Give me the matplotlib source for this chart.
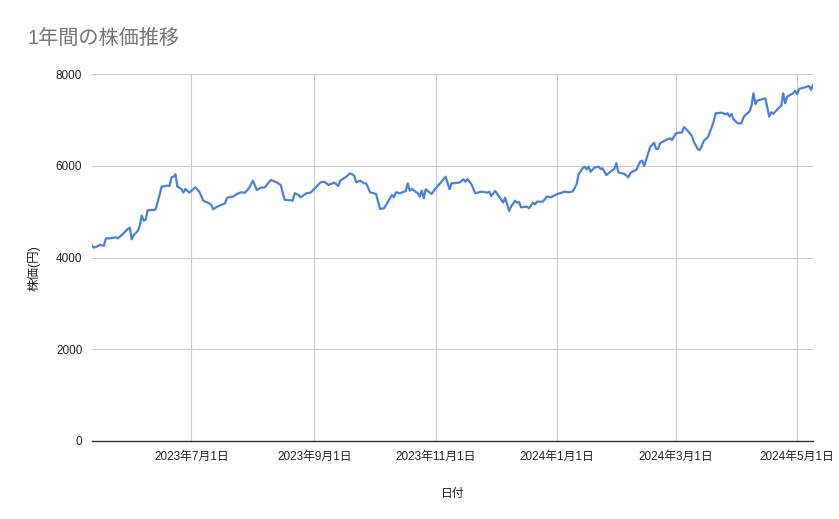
#!/usr/bin/env python3
# -*- coding: utf-8 -*-
"""
1年間の株価推移（折れ線グラフ）
"""

import matplotlib
matplotlib.use('Agg')
import matplotlib.pyplot as plt
import matplotlib.dates as mdates
from matplotlib.ticker import FuncFormatter
import pandas as pd

# フォント設定（数字は Liberation Sans、漢字は Noto Sans CJK JP）
plt.rcParams['font.family'] = ['Liberation Sans', 'Noto Sans CJK JP', 'DejaVu Sans']

# データ
dates = [
    '2023-05-12', '2023-05-13', '2023-05-15', '2023-05-16', '2023-05-18', '2023-05-19',
    '2023-05-21', '2023-05-24', '2023-05-25', '2023-05-27', '2023-05-30', '2023-05-31',
    '2023-06-01', '2023-06-02', '2023-06-04', '2023-06-05', '2023-06-06', '2023-06-07',
    '2023-06-08', '2023-06-09', '2023-06-12', '2023-06-13', '2023-06-15', '2023-06-16',
    '2023-06-19', '2023-06-20', '2023-06-21', '2023-06-22', '2023-06-23', '2023-06-24',
    '2023-06-26', '2023-06-27', '2023-06-28', '2023-06-30',
    '2023-07-03', '2023-07-05', '2023-07-07', '2023-07-10', '2023-07-11', '2023-07-12',
    '2023-07-14', '2023-07-16', '2023-07-18', '2023-07-19', '2023-07-22', '2023-07-24',
    '2023-07-26', '2023-07-28', '2023-07-30',
    '2023-08-01', '2023-08-03', '2023-08-05', '2023-08-07', '2023-08-10', '2023-08-13',
    '2023-08-15', '2023-08-17', '2023-08-19', '2023-08-21', '2023-08-22', '2023-08-24',
    '2023-08-25', '2023-08-28', '2023-08-30',
    '2023-09-02', '2023-09-04', '2023-09-06', '2023-09-08', '2023-09-11', '2023-09-13',
    '2023-09-14', '2023-09-17', '2023-09-19', '2023-09-21', '2023-09-22', '2023-09-24',
    '2023-09-26', '2023-09-27', '2023-09-29',
    '2023-10-02', '2023-10-04', '2023-10-06', '2023-10-08', '2023-10-10', '2023-10-11',
    '2023-10-12', '2023-10-14', '2023-10-17', '2023-10-18', '2023-10-19', '2023-10-20',
    '2023-10-23', '2023-10-24', '2023-10-25', '2023-10-26', '2023-10-27', '2023-10-30',
    '2023-11-01', '2023-11-04', '2023-11-06', '2023-11-08', '2023-11-09', '2023-11-13',
    '2023-11-15', '2023-11-16', '2023-11-17', '2023-11-19', '2023-11-21', '2023-11-24',
    '2023-11-27', '2023-11-28', '2023-11-29',
    '2023-12-01', '2023-12-03', '2023-12-05', '2023-12-06', '2023-12-08', '2023-12-09',
    '2023-12-11', '2023-12-12', '2023-12-13', '2023-12-14', '2023-12-17', '2023-12-18',
    '2023-12-19', '2023-12-20', '2023-12-21', '2023-12-22', '2023-12-25', '2023-12-27',
    '2023-12-29',
    '2024-01-01', '2024-01-05', '2024-01-07', '2024-01-09', '2024-01-11', '2024-01-12',
    '2024-01-14', '2024-01-15', '2024-01-16', '2024-01-17', '2024-01-18', '2024-01-20',
    '2024-01-22', '2024-01-23', '2024-01-24', '2024-01-26', '2024-01-28', '2024-01-30',
    '2024-01-31',
    '2024-02-01', '2024-02-04', '2024-02-06', '2024-02-07', '2024-02-08', '2024-02-10',
    '2024-02-12', '2024-02-13', '2024-02-14', '2024-02-16', '2024-02-17', '2024-02-19',
    '2024-02-20', '2024-02-21', '2024-02-22', '2024-02-25', '2024-02-27', '2024-02-28',
    '2024-03-01', '2024-03-03', '2024-03-04', '2024-03-05', '2024-03-07', '2024-03-09',
    '2024-03-10', '2024-03-12', '2024-03-13', '2024-03-14', '2024-03-15', '2024-03-17',
    '2024-03-18', '2024-03-20', '2024-03-21', '2024-03-24', '2024-03-26', '2024-03-27',
    '2024-03-28', '2024-03-29', '2024-03-30',
    '2024-04-01', '2024-04-03', '2024-04-04', '2024-04-05', '2024-04-07', '2024-04-08',
    '2024-04-09', '2024-04-10', '2024-04-11', '2024-04-14', '2024-04-15', '2024-04-17',
    '2024-04-18', '2024-04-19', '2024-04-20', '2024-04-22', '2024-04-23', '2024-04-24',
    '2024-04-25', '2024-04-26', '2024-04-29', '2024-04-30',
    '2024-05-01', '2024-05-02', '2024-05-05', '2024-05-07', '2024-05-08', '2024-05-09',
]

prices = [
    4258, 4214, 4251, 4273, 4258, 4418,
    4418, 4440, 4418, 4491, 4622, 4651,
    4397, 4491, 4578, 4687, 4912, 4803,
    4825, 5029, 5036, 5050, 5363, 5544,
    5566, 5558, 5749, 5762, 5813, 5544,
    5494, 5414, 5494, 5414,
    5530, 5435, 5239, 5181, 5145, 5051,
    5109, 5145, 5181, 5305, 5327, 5385,
    5421, 5414, 5508,
    5674, 5471, 5523, 5530, 5690, 5639,
    5581, 5254, 5254, 5239, 5400, 5363,
    5312, 5400, 5414,
    5544, 5639, 5653, 5581, 5632, 5559,
    5675, 5762, 5836, 5784, 5639, 5675,
    5617, 5617, 5421,
    5385, 5058, 5072, 5217, 5363, 5312,
    5421, 5400, 5450, 5617, 5457, 5494,
    5400, 5327, 5457, 5291, 5487, 5385,
    5508, 5653, 5762, 5487, 5617, 5632,
    5705, 5653, 5712, 5596, 5400, 5435,
    5414, 5435, 5341,
    5450, 5327, 5196, 5305, 5014, 5109,
    5239, 5196, 5210, 5094, 5109, 5072,
    5130, 5196, 5160, 5217, 5217, 5327,
    5312,
    5378, 5435, 5421, 5440, 5596, 5813,
    5945, 5980, 5923, 5980, 5871, 5958,
    5980, 5930, 5945, 5799, 5871, 5930,
    6054,
    5857, 5821, 5749, 5836, 5871, 5908,
    6090, 6113, 5995, 6272, 6403, 6504,
    6366, 6366, 6490, 6562, 6599, 6562,
    6708, 6722, 6722, 6845, 6760, 6649,
    6525, 6359, 6344, 6431, 6540, 6621,
    6722, 6961, 7144, 7157, 7122, 7144,
    7070, 7129, 7013,
    6926, 6926, 7057, 7107, 7179, 7303,
    7580, 7347, 7419, 7456, 7470, 7070,
    7165, 7129, 7179, 7274, 7303, 7580,
    7362, 7506, 7580, 7637,
    7558, 7674, 7710, 7739, 7652, 7761,
]

y_ticks = [0, 2000, 4000, 6000, 8000]
tick_months = [1, 3, 5, 7, 9, 11]

title_text = '1年間の株価推移'
x_label = '日付'
y_label = '株価(円)'

line_color = '#4a80d8'
grid_color = '#cccccc'
text_color = '#222222'


def main():
    x = pd.to_datetime(dates)

    fig = plt.figure(figsize=(8.39, 5.19), dpi=100)
    ax = fig.add_axes([0.1097, 0.1503, 0.969 - 0.1097, 0.8574 - 0.1503])

    ax.plot(x, prices, color=line_color, linewidth=1.6, solid_joinstyle='round')

    # 軸範囲
    ax.set_xlim(x[0], x[-1])
    ax.set_ylim(0, 8000)
    ax.set_yticks(y_ticks)

    # 目盛り（年月日表記）
    ax.xaxis.set_major_locator(mdates.MonthLocator(bymonth=tick_months))
    ax.xaxis.set_major_formatter(FuncFormatter(
        lambda v, pos: (lambda d: f'{d.year}年{d.month}月{d.day}日')(mdates.num2date(v))))

    ax.tick_params(axis='both', length=0, labelsize=8.5, colors=text_color)
    ax.tick_params(axis='x', pad=7)
    ax.tick_params(axis='y', pad=7)

    # グリッド
    ax.grid(True, color=grid_color, linewidth=0.8)
    ax.set_axisbelow(True)
    for side in ['top', 'right', 'left']:
        ax.spines[side].set_visible(False)
    ax.spines['bottom'].set_color('#333333')
    ax.spines['bottom'].set_linewidth(1.0)

    # ラベル
    ax.set_xlabel(x_label, fontsize=8.5, color=text_color)
    ax.xaxis.set_label_coords(0.5, -0.127)
    ax.set_ylabel(y_label, fontsize=9, color=text_color)
    ax.yaxis.set_label_coords(-0.072, 0.47)

    fig.text(27 / 839, 1 - 38 / 519, title_text, fontsize=14.5, color='#757575',
             ha='left', va='center')

    fig.savefig('out.png', dpi=100)
    plt.close(fig)


if __name__ == '__main__':
    main()
